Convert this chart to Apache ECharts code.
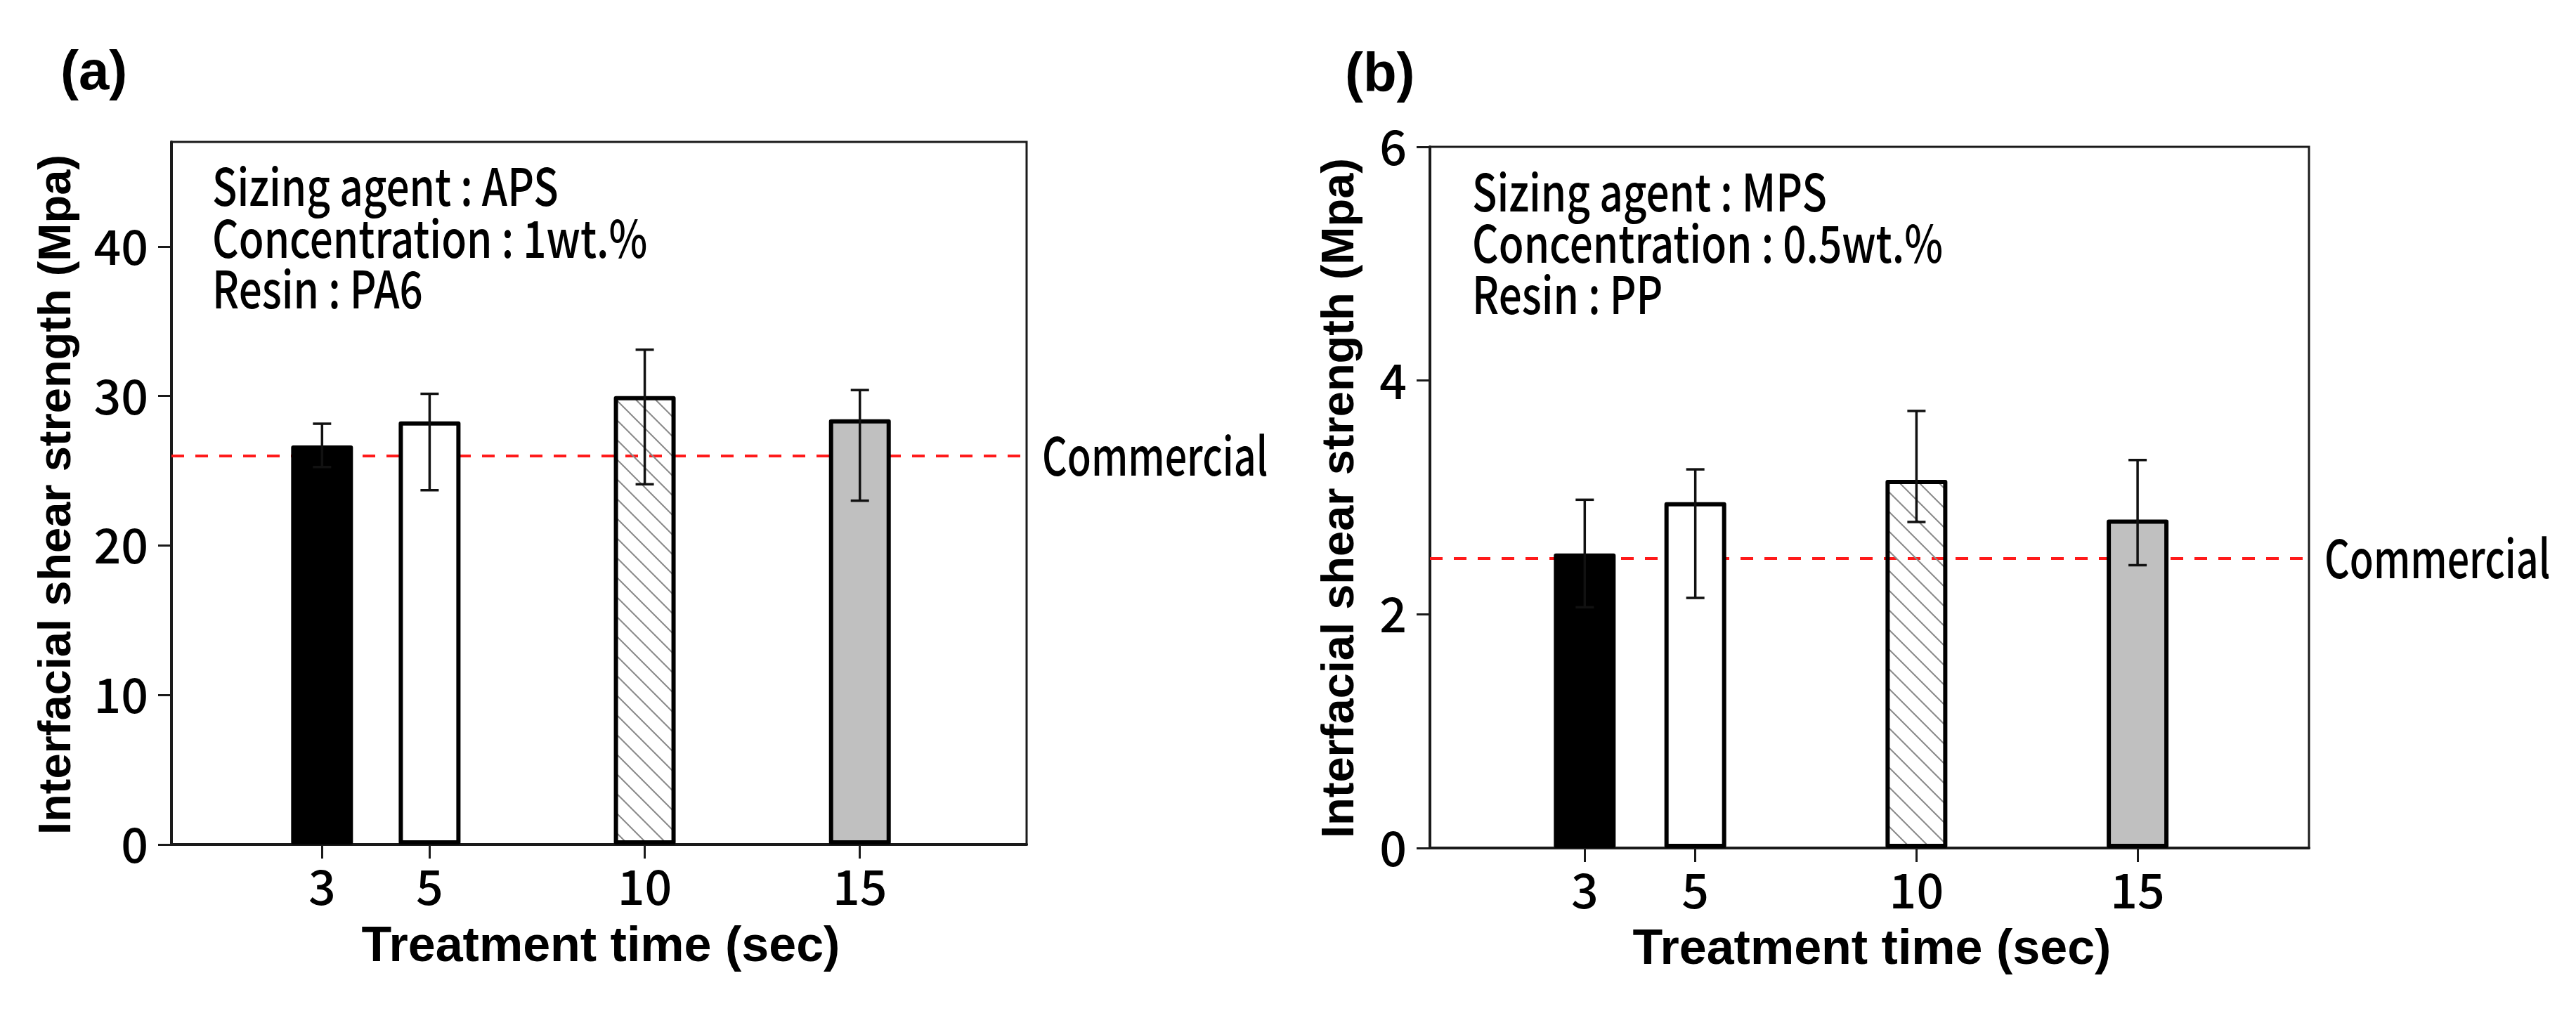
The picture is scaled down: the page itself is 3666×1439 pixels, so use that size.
<!DOCTYPE html>
<html>
<head>
<meta charset="utf-8">
<script src="https://cdn.jsdelivr.net/npm/echarts@6/dist/echarts.min.js"></script>
<style>
html,body{margin:0;padding:0;background:#fff;}
#chart{width:3666px;height:1439px;}
</style>
</head>
<body>
<div id="chart"></div>
<script>
// ---- data ----
const categories = ['3', '5', '10', '15'];          // treatment time (sec)
const slots = [0, 1, 3, 5];                          // category slot on the x axis
const ifssA = [26.7, 28.3, 30.0, 28.45];
const errHighA = [28.15, 30.15, 33.1, 30.4];
const errLowA = [25.25, 23.7, 24.1, 23.0];
const commercialA = 26.0;
const yTicksA = [0, 10, 20, 30, 40];
const ifssB = [2.52, 2.96, 3.15, 2.81];
const errHighB = [2.98, 3.24, 3.74, 3.32];
const errLowB = [2.06, 2.14, 2.79, 2.42];
const commercialB = 2.48;
const yTicksB = [0, 2, 4, 6];
const notesA = ['Sizing agent : APS', 'Concentration : 1wt.%', 'Resin : PA6'];
const notesB = ['Sizing agent : MPS', 'Concentration : 0.5wt.%', 'Resin : PP'];
const commercialText = 'Commercial';

// ---- styles ----
const NARROW = "'Noto Sans CJK KR', 'Liberation Sans Narrow', sans-serif";
const BOLD = "'Liberation Sans', Arial, sans-serif";
const X_MIN = -1.4, X_MAX = 6.55;

function hatch() {
  const s = 28;
  const c = document.createElement('canvas');
  c.width = s; c.height = s;
  const g = c.getContext('2d');
  g.strokeStyle = '#8a8a8a';
  g.lineWidth = 2;
  g.beginPath();
  g.moveTo(-4, -4); g.lineTo(s + 4, s + 4);
  g.moveTo(-4, s - 4); g.lineTo(4, s + 4);
  g.moveTo(s - 4, -4); g.lineTo(s + 4, 4);
  g.stroke();
  return c;
}
const fills = ['#000000', '#ffffff', { image: hatch(), repeat: 'repeat' }, '#c0c0c0'];

function errRender(params, api) {
  const x = api.value(0), lo = api.value(1), hi = api.value(2);
  const pLo = api.coord([x, lo]), pHi = api.coord([x, hi]);
  const cw = 13;
  const st = { stroke: '#111', lineWidth: 3.5 };
  return {
    type: 'group',
    children: [
      { type: 'line', shape: { x1: pLo[0], y1: pLo[1], x2: pHi[0], y2: pHi[1] }, style: st },
      { type: 'line', shape: { x1: pHi[0] - cw, y1: pHi[1], x2: pHi[0] + cw, y2: pHi[1] }, style: st },
      { type: 'line', shape: { x1: pLo[0] - cw, y1: pLo[1], x2: pLo[0] + cw, y2: pLo[1] }, style: st }
    ]
  };
}

function xAxisFor(i) {
  return {
    type: 'value', gridIndex: i, min: X_MIN, max: X_MAX,
    axisLine: { show: true, onZero: false, lineStyle: { color: '#1a1a1a', width: 4 } },
    axisTick: { show: true, customValues: slots, length: 20, lineStyle: { color: '#1a1a1a', width: 3 } },
    axisLabel: {
      show: true, customValues: slots, margin: 26, lineHeight: 68,
      fontSize: 68, fontWeight: 500, fontFamily: NARROW, color: '#000',
      formatter: v => categories[slots.indexOf(Math.round(v))] || ''
    },
    splitLine: { show: false }
  };
}
function yAxisFor(i, max, ticks) {
  return {
    type: 'value', gridIndex: i, min: 0, max: max,
    axisLine: { show: true, onZero: false, lineStyle: { color: '#1a1a1a', width: 4 } },
    axisTick: { show: true, customValues: ticks, length: 19, lineStyle: { color: '#1a1a1a', width: 3 } },
    axisLabel: { show: true, customValues: ticks, margin: 33, fontSize: 68, fontWeight: 500, fontFamily: NARROW, color: '#000' },
    splitLine: { show: false }
  };
}
function seriesFor(i, vals, lo, hi, com) {
  return [
    {
      type: 'line', xAxisIndex: i, yAxisIndex: i, data: [], z: 1,
      markLine: {
        z: 1, silent: true, symbol: 'none', animation: false,
        lineStyle: { color: '#ff1a1a', type: [18, 16], width: 4 },
        label: { show: false },
        data: [{ yAxis: com }]
      }
    },
    {
      type: 'bar', xAxisIndex: i, yAxisIndex: i, z: 3, barWidth: 88,
      itemStyle: { borderColor: '#000', borderWidth: 6, borderJoin: 'round' },
      data: slots.map((s, k) => ({ value: [s, vals[k]], itemStyle: { color: fills[k] } }))
    },
    {
      type: 'custom', xAxisIndex: i, yAxisIndex: i, z: 4,
      renderItem: errRender, encode: { x: 0, y: [1, 2] },
      data: slots.map((s, k) => [s, lo[k], hi[k]])
    }
  ];
}
function noteTexts(x, ys, lines) {
  return lines.map((t, k) => ({
    type: 'text', x: x, y: ys[k], scaleX: 0.8,
    style: { text: t, fontSize: 73, fontWeight: 500, fontFamily: NARROW, fill: '#000', align: 'left', verticalAlign: 'middle' }
  }));
}
function label(x, y, t, size, rot) {
  return {
    type: 'text', x: x, y: y, rotation: rot || 0,
    style: { text: t, fontSize: size, fontFamily: BOLD, fontWeight: 'bold', fill: '#000', align: 'center', verticalAlign: 'middle' }
  };
}

const chart = echarts.init(document.getElementById('chart'), null, { renderer: 'canvas' });
chart.setOption({
  animation: false,
  backgroundColor: '#ffffff',
  grid: [
    { left: 244, top: 202, width: 1217, height: 1000, show: true, borderColor: '#1a1a1a', borderWidth: 3, backgroundColor: 'transparent', containLabel: false, outerBoundsMode: 'none' },
    { left: 2035, top: 209, width: 1251, height: 998, show: true, borderColor: '#1a1a1a', borderWidth: 3, backgroundColor: 'transparent', containLabel: false, outerBoundsMode: 'none' }
  ],
  xAxis: [xAxisFor(0), xAxisFor(1)],
  yAxis: [yAxisFor(0, 47, yTicksA), yAxisFor(1, 6, yTicksB)],
  series: [].concat(
    seriesFor(0, ifssA, errLowA, errHighA, commercialA),
    seriesFor(1, ifssB, errLowB, errHighB, commercialB)
  )
});

// "Commercial" labels placed at the right end of each reference line, via the library's scales
const pA = chart.convertToPixel({ xAxisIndex: 0, yAxisIndex: 0 }, [X_MAX, commercialA]);
const pB = chart.convertToPixel({ xAxisIndex: 1, yAxisIndex: 1 }, [X_MAX, commercialB]);
function comLabel(p) {
  return {
    type: 'text', x: p[0] + 22, y: p[1], scaleX: 0.74,
    style: { text: commercialText, fontSize: 75, fontWeight: 500, fontFamily: NARROW, fill: '#000', align: 'left', verticalAlign: 'middle' }
  };
}

chart.setOption({
  graphic: [].concat(
    [
      { type: 'text', x: 86, y: 105, style: { text: '(a)', fontSize: 78, fontFamily: BOLD, fontWeight: 'bold', fill: '#000', align: 'left', verticalAlign: 'middle' } },
      { type: 'text', x: 1914, y: 108, style: { text: '(b)', fontSize: 78, fontFamily: BOLD, fontWeight: 'bold', fill: '#000', align: 'left', verticalAlign: 'middle' } },
      label(82, 704, 'Interfacial shear strength (Mpa)', 65, Math.PI / 2),
      label(1908, 709, 'Interfacial shear strength (Mpa)', 65, Math.PI / 2),
      label(855, 1349, 'Treatment time (sec)', 70, 0),
      label(2664, 1353, 'Treatment time (sec)', 70, 0),
      comLabel(pA),
      comLabel(pB)
    ],
    noteTexts(302, [265, 339, 411], notesA),
    noteTexts(2095, [273, 346, 419], notesB)
  )
});
</script>
</body>
</html>
